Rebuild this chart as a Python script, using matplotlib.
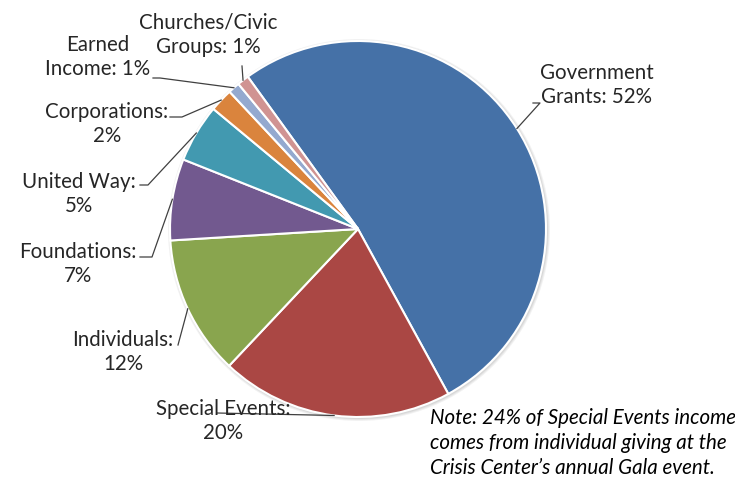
import numpy as np
import matplotlib
matplotlib.use("Agg")
import matplotlib.pyplot as plt
from matplotlib.patches import Circle

plt.rcParams['font.family'] = ['Lato', 'DejaVu Sans']

categories = ["Government Grants", "Special Events", "Individuals", "Foundations",
              "United Way", "Corporations", "Earned Income", "Churches/Civic Groups"]
values = [52, 20, 12, 7, 5, 2, 1, 1]
label_texts = ["Government\nGrants: 52%", "Special Events:\n20%", "Individuals:\n12%",
               "Foundations:\n7%", "United Way:\n5%", "Corporations:\n2%",
               "Earned\nIncome: 1%", "Churches/Civic\nGroups: 1%"]
colors = ["#4571A7", "#AA4744", "#89A54E", "#72598F", "#4299B0", "#DA843D", "#94A9CF", "#D09392"]
note = "Note: 24% of Special Events income\ncomes from individual giving at the\nCrisis Center\u2019s annual Gala event."

W, H = 735, 478
def Y(y):
    return H - y

fig = plt.figure(figsize=(W / 100, H / 100), dpi=100)
ax = fig.add_axes([0, 0, 1, 1])

cx, cy, R = 358, 229, 188
start = 125.9

# soft shadow
for i, a in enumerate([0.05, 0.05, 0.06]):
    ax.add_patch(Circle((cx + 1, Y(cy) - 1), R + 3 - i, facecolor="#000000", alpha=a,
                        edgecolor="none", zorder=0))

wedges, _ = ax.pie(values, colors=colors, startangle=start, counterclock=False,
                   center=(cx, Y(cy)), radius=R,
                   wedgeprops=dict(edgecolor="white", linewidth=1.5))
ax.set_aspect("auto")
ax.set_xlim(0, W)
ax.set_ylim(0, H)
ax.axis("off")

# label layout: text center (image px) and leader elbow points (image px)
label_pos = [(597, 85), (223, 421), (123, 352), (78, 264), (79, 194), (107, 124), (98, 57), (208, 35)]
leader_pts = [
    [(533, 103), (540, 103)],
    [(217, 413)],
    [(178, 345)],
    [(140, 257), (152, 257)],
    [(140, 185), (148, 185)],
    [(170, 117), (182, 117)],
    [(153, 78), (160, 78)],
    [(242, 66)],
]

FS = 14.8
for w, txt, (tx, ty), pts in zip(wedges, label_texts, label_pos, leader_pts):
    mid = np.deg2rad((w.theta1 + w.theta2) / 2)
    ex = cx + R * np.cos(mid)
    ey = Y(cy) + R * np.sin(mid)
    xs = [p[0] for p in pts] + [ex]
    ys = [Y(p[1]) for p in pts] + [ey]
    ax.plot(xs, ys, color="#404040", lw=0.9, zorder=3)
    ax.text(tx, Y(ty), txt, ha="center", va="center", multialignment="center",
            fontsize=FS, color="#262626", linespacing=1.3, zorder=4)

ax.text(430, Y(443), note, ha="left", va="center", fontsize=FS, style="italic",
        color="#000000", linespacing=1.3)

fig.savefig("out.png", dpi=100)
